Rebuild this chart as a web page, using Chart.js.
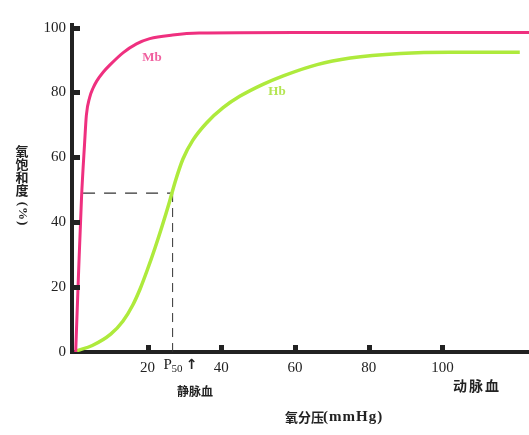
<!DOCTYPE html>
<html>
<head>
<meta charset="utf-8">
<script src="https://cdn.jsdelivr.net/npm/chart.js@4.4.1/dist/chart.umd.min.js"></script>
<style>
  html, body { margin: 0; padding: 0; background: #fff; }
  #wrap { width: 529px; height: 435px; }
</style>
</head>
<body>
<div id="wrap"><canvas id="chartContainer"></canvas></div>
<script>
// oxygen partial pressure (mmHg) vs saturation (%)
const mbX = [0.5, 1.3, 2.1, 2.9, 3.4, 4.3, 5.2, 6.2, 8, 9.8, 13.4, 17, 20.6, 26.8, 34, 60, 124];
const mbY = [0, 25, 48, 64, 73, 78.5, 81.3, 83.5, 86.3, 88.5, 92.3, 95, 96.6, 97.7, 98.3, 98.5, 98.5];

const hbX = [0.8, 5, 10, 13.3, 16, 18, 20, 22, 24, 26, 27.5, 29.6, 32.3, 36, 40.5, 45, 51.3, 57, 66, 75, 88.6, 102, 121];
const hbY = [0.4, 2, 5.5, 9.5, 14.5, 19.5, 25.5, 32, 39, 46.5, 52.5, 59.5, 65.3, 70.6, 75.3, 78.8, 82.5, 85.2, 88.6, 90.6, 92, 92.4, 92.4];

const p50 = 26.8;
const halfSat = 49;

const xTicks = [20, p50, 40, 60, 80, 100];
const xTickLabels = ["20", "", "40", "60", "80", "100"];
const yTicks = [0, 20, 40, 60, 80, 100];

const toPoints = (xs, ys) => xs.map((x, i) => ({x: x, y: ys[i]}));

const serif = '"Liberation Serif", "DejaVu Serif", serif';
const cjk = '"Noto Sans CJK SC", sans-serif';

// tick squares, labels and other annotations
const annotations = {
  id: "annotations",
  afterDraw(chart) {
    const ctx = chart.ctx;
    const xs = chart.scales.x;
    const ys = chart.scales.y;
    const x0 = chart.chartArea.left;
    const yb = chart.chartArea.bottom;
    ctx.save();
    ctx.fillStyle = "#222";
    [20, 40, 60, 80, 100].forEach(v => {
      const px = xs.getPixelForValue(v);
      ctx.fillRect(Math.round(px) - 2, yb - 7, 5, 6);
    });
    yTicks.slice(1).forEach(v => {
      const py = ys.getPixelForValue(v);
      ctx.fillRect(x0 + 1, Math.round(py) - 2, 7, 5);
    });

    // P50 label with subscript and arrow
    const pp = xs.getPixelForValue(p50);
    ctx.textBaseline = "middle";
    ctx.textAlign = "left";
    ctx.font = "15px " + serif;
    ctx.fillText("P", pp - 9, 365);
    ctx.font = "11px " + serif;
    ctx.fillText("50", pp - 1, 369);
    ctx.font = "bold 14px " + '"DejaVu Sans", sans-serif';
    ctx.textAlign = "center";
    ctx.fillText("↑", pp + 19, 365);

    // blood labels and axis title
    ctx.font = "bold 12px " + cjk;
    ctx.fillText("静脉血", 195, 391);
    ctx.font = "bold 14px " + cjk;
    ctx.letterSpacing = "2px";
    ctx.fillText("动脉血", 477, 386);
    ctx.letterSpacing = "0px";
    ctx.textAlign = "left";
    ctx.font = "bold 13px " + cjk;
    ctx.fillText("氧分压", 285, 417);
    ctx.font = "bold 15px " + serif;
    ctx.letterSpacing = "1px";
    ctx.fillText("(mmHg)", 323, 417);
    ctx.letterSpacing = "0px";

    // stacked y title
    ctx.textAlign = "center";
    ctx.font = "bold 13px " + cjk;
    ["氧", "饱", "和", "度"].forEach((ch, i) => {
      ctx.fillText(ch, 22, 151 + i * 13);
    });
    ctx.save();
    ctx.translate(22, 214);
    ctx.rotate(Math.PI / 2);
    ctx.font = "bold 13px " + serif;
    ctx.letterSpacing = "1px";
    ctx.fillText("(%)", 0, 0);
    ctx.restore();

    // curve names
    ctx.font = "bold 13px " + serif;
    ctx.fillStyle = "#f0609f";
    ctx.fillText("Mb", 152, 58);
    ctx.fillStyle = "#b4e552";
    ctx.fillText("Hb", 277, 92);
    ctx.restore();
  }
};

const chartOptions = {
  type: "line",
  data: {
    datasets: [
      {
        data: toPoints(mbX, mbY),
        borderColor: "#ef307f",
        borderWidth: 3,
        cubicInterpolationMode: "monotone",
      },
      {
        data: toPoints(hbX, hbY),
        borderColor: "#aeea3c",
        borderWidth: 3.5,
        cubicInterpolationMode: "monotone",
      },
      {
        data: [{x: 2.5, y: halfSat}, {x: p50, y: halfSat}],
        borderColor: "#333",
        borderWidth: 1.3,
        borderDash: [12, 9],
        tension: 0,
      },
      {
        data: [{x: p50, y: halfSat}, {x: p50, y: 0}],
        borderColor: "#333",
        borderWidth: 1,
        borderDash: [9, 6],
        tension: 0,
      },
    ],
  },
  options: {
    responsive: true,
    maintainAspectRatio: false,
    animation: false,
    layout: { padding: { top: 25, right: 0, left: 0, bottom: 0 } },
    elements: { point: { radius: 0 } },
    plugins: {
      legend: { display: false },
      tooltip: { enabled: false },
    },
    scales: {
      x: {
        type: "linear",
        min: -0.5,
        max: 123.5,
        afterBuildTicks: s => { s.ticks = xTicks.map(v => ({value: v})); },
        afterFit: s => { s.height = 83; },
        grid: { display: false, drawTicks: false },
        border: { display: true, color: "#222", width: 4 },
        ticks: {
          autoSkip: false,
          maxRotation: 0,
          padding: 7,
          color: "#222",
          font: { family: serif, size: 15 },
          callback: (v, i) => xTickLabels[i],
        },
      },
      y: {
        min: 0,
        max: 100.8,
        afterBuildTicks: s => { s.ticks = yTicks.map(v => ({value: v})); },
        afterFit: s => { s.width = 72; },
        grid: { display: false, drawTicks: false },
        border: { display: true, color: "#222", width: 4 },
        ticks: {
          padding: 6,
          color: "#222",
          font: { family: serif, size: 15 },
        },
      },
    },
  },
  plugins: [annotations],
};

const chart = new Chart(document.getElementById("chartContainer"), chartOptions);
</script>
</body>
</html>
